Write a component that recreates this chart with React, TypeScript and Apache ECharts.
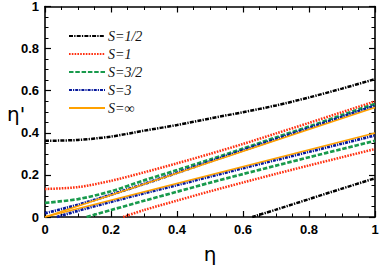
import React, { useEffect, useRef } from "react";
import * as echarts from "echarts";

const etaGrid = [0, 0.1, 0.2, 0.3, 0.4, 0.5, 0.6, 0.7, 0.8, 0.9, 1.0];

// S = 1/2
const halfUpper = [0.362, 0.366, 0.382, 0.41, 0.437, 0.468, 0.498, 0.53, 0.568, 0.61, 0.655];
const halfLowerEta = [0.628, 0.7, 0.8, 0.9, 1.0];
const halfLower = [0, 0.035, 0.085, 0.135, 0.184];

// S = 1
const oneUpper = [0.133, 0.142, 0.172, 0.212, 0.255, 0.3, 0.347, 0.397, 0.447, 0.498, 0.549];
const oneLowerEta = [0.237, 0.3, 0.4, 0.5, 0.6, 0.7, 0.8, 0.9, 1.0];
const oneLower = [0, 0.033, 0.078, 0.122, 0.164, 0.205, 0.245, 0.284, 0.323];

// S = 3/2
const threeHalfUpper = [0.067, 0.085, 0.122, 0.174, 0.223, 0.273, 0.325, 0.378, 0.43, 0.484, 0.537];
const threeHalfLowerEta = [0.126, 0.2, 0.3, 0.4, 0.5, 0.6, 0.7, 0.8, 0.9, 1.0];
const threeHalfLower = [0, 0.033, 0.077, 0.12, 0.163, 0.204, 0.244, 0.284, 0.323, 0.362];

// S = 3
const threeUpper = [0.018, 0.058, 0.106, 0.157, 0.21, 0.264, 0.317, 0.37, 0.423, 0.476, 0.529];
const threeLowerEta = [0.036, 0.1, 0.2, 0.3, 0.4, 0.5, 0.6, 0.7, 0.8, 0.9, 1.0];
const threeLower = [0, 0.03, 0.072, 0.113, 0.152, 0.192, 0.232, 0.271, 0.31, 0.349, 0.388];

// S = infinity
const infEta = [0, 1];
const infUpper = [0, 0.52];
const infLower = [0, 0.399];

const xTicks = ["0", "0.2", "0.4", "0.6", "0.8", "1"];

const zip = (xs: number[], ys: number[]) => xs.map((x, i) => [x, ys[i]]);

export default function App() {
  const ref = useRef<HTMLDivElement>(null);
  useEffect(() => {
    if (!ref.current) return;
    const chart = echarts.init(ref.current, undefined, { renderer: "svg" });

    const styles: Record<string, any> = {
      "S=1/2": { color: "#000000", width: 2.5, type: [4, 1.2, 1.3, 1.2] },
      "S=1": { color: "#ff3010", width: 2.5, type: [1.6, 1.2] },
      "S=3/2": { color: "#189a4c", width: 2.7, type: [4.5, 1.8] },
      "S=3": { color: "#081a9c", width: 2.8, type: [3, 1, 1.2, 1] },
      "S=∞": { color: "#ffa100", width: 1.6, type: "solid" },
    };

    const mk = (name: string, data: number[][]) => ({
      name,
      type: "line",
      data,
      smooth: 0.3,
      showSymbol: false,
      symbol: "none",
      clip: true,
      lineStyle: { ...styles[name] },
      itemStyle: { color: styles[name].color },
    });

    const fmt = (v: number) => {
      const r = Math.round(v * 10) / 10;
      return r === 0 ? "0" : r === 1 ? "1" : String(r);
    };

    const axisCommon = {
      type: "value",
      min: 0,
      max: 1,
      interval: 0.2,
      axisLine: { show: true, onZero: false, lineStyle: { color: "#000", width: 1.6 } },
      axisTick: { show: true, inside: true, length: 6, lineStyle: { color: "#000", width: 1.2 } },
      minorTick: { show: true, splitNumber: 4, length: 3.5, lineStyle: { color: "#000", width: 1 } },
      splitLine: { show: false },
      minorSplitLine: { show: false },
    };

    chart.setOption({
      animation: false,
      backgroundColor: "#ffffff",
      grid: { left: 45, right: 7, top: 5, bottom: 46, containLabel: false },
      legend: {
        orient: "vertical",
        left: 63,
        top: 24,
        itemWidth: 36,
        itemHeight: 10,
        itemGap: 4,
        itemStyle: { opacity: 0 },
        data: ["S=1/2", "S=1", "S=3/2", "S=3", "S=∞"],
        textStyle: {
          fontFamily: "Liberation Serif",
          fontStyle: "italic",
          fontSize: 14,
          color: "#111",
          padding: [0, 0, 0, -2],
        },
      },
      graphic: [
        {
          type: "text",
          left: 7,
          top: 104,
          style: { text: "η'", fontFamily: "DejaVu Sans", fontSize: 20, fill: "#000" },
        },
      ],
      xAxis: [
        {
          ...axisCommon,
          position: "bottom",
          axisLabel: {
            show: true,
            margin: 6,
            fontFamily: "Liberation Sans",
            fontWeight: "bold",
            fontSize: 13,
            color: "#000",
            formatter: (v: number) => xTicks[Math.round(v * 5)] ?? fmt(v),
          },
          name: "η",
          nameLocation: "middle",
          nameGap: 27,
          nameTextStyle: { fontFamily: "DejaVu Sans", fontSize: 20, color: "#000" },
        },
        {
          ...axisCommon,
          position: "top",
          axisLabel: { show: false },
        },
      ],
      yAxis: [
        {
          ...axisCommon,
          position: "left",
          axisLabel: {
            show: true,
            margin: 6,
            fontFamily: "Liberation Sans",
            fontWeight: "bold",
            fontSize: 13,
            color: "#000",
            formatter: fmt,
          },
        },
        {
          ...axisCommon,
          position: "right",
          axisLabel: { show: false },
        },
      ],
      series: [
        mk("S=1/2", zip(etaGrid, halfUpper)),
        mk("S=1/2", zip(halfLowerEta, halfLower)),
        mk("S=1", zip(etaGrid, oneUpper)),
        mk("S=1", zip(oneLowerEta, oneLower)),
        mk("S=3/2", zip(etaGrid, threeHalfUpper)),
        mk("S=3/2", zip(threeHalfLowerEta, threeHalfLower)),
        mk("S=3", zip(etaGrid, threeUpper)),
        mk("S=3", zip(threeLowerEta, threeLower)),
        mk("S=∞", zip(infEta, infUpper)),
        mk("S=∞", zip(infEta, infLower)),
      ],
    });
    return () => chart.dispose();
  }, []);

  return <div ref={ref} style={{ width: 382, height: 269, position: "absolute", left: 0, top: 0 }} />;
}
